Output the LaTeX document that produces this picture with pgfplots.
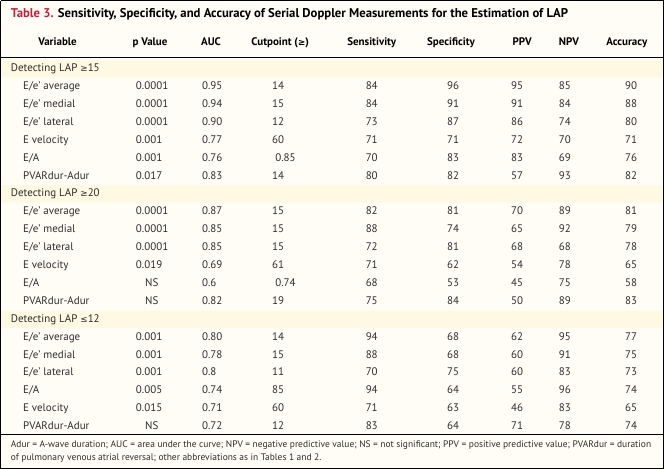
\documentclass[border=0pt]{standalone}
\usepackage{pgfplots}
\pgfplotsset{compat=1.18}
\usepackage{pgfplotstable}
\usepackage{fontspec}
\setmainfont{PT Sans}
\newfontfamily\symfont{DejaVu Sans}
\protected\def\sym#1{{\symfont\fontsize{8.6}{10}\selectfont #1}}
\definecolor{bgc}{RGB}{255,253,246}
\definecolor{band}{RGB}{255,248,226}
\definecolor{titlered}{RGB}{200,30,60}
\definecolor{txt}{RGB}{45,45,45}

\pgfplotstableread[col sep=ampersand, row sep=\\]{
y&var&p&px&auc&cut&cx&sens&spec&ppv&npv&acc\\
89.6&E/e’ average&0.0001&138&0.95&14&272&84&96&95&85&90\\
107.2&E/e’ medial&0.0001&138&0.94&15&272&84&91&91&84&88\\
124.8&E/e’ lateral&0.0001&138&0.90&12&272&73&87&86&74&80\\
142.4&E velocity&0.001&138&0.77&60&272&71&71&72&70&71\\
160&E/A&0.001&138&0.76&0.85&275&70&83&83&69&76\\
177.6&PVARdur-Adur&0.017&138&0.83&14&272&80&82&57&93&82\\
212.8&E/e’ average&0.0001&138&0.87&15&272&82&81&70&89&81\\
230.4&E/e’ medial&0.0001&138&0.85&15&272&88&74&65&92&79\\
248&E/e’ lateral&0.0001&138&0.85&15&272&72&81&68&68&78\\
265.6&E velocity&0.019&138&0.69&61&272&71&62&54&78&65\\
283.2&E/A&NS&147&0.6&0.74&275&68&53&45&75&58\\
300.8&PVARdur-Adur&NS&147&0.82&19&272&75&84&50&89&83\\
336&E/e’ average&0.001&138&0.80&14&272&94&68&62&95&77\\
353.6&E/e’ medial&0.001&138&0.78&15&272&88&68&60&91&75\\
371.2&E/e’ lateral&0.001&138&0.8&11&272&70&75&60&83&73\\
388.8&E/A&0.005&138&0.74&85&272&94&64&55&96&74\\
406.4&E velocity&0.015&138&0.71&60&272&71&63&46&83&65\\
424&PVARdur-Adur&NS&147&0.72&12&272&83&64&71&78&74\\
}\datatbl

\pgfplotstableread[col sep=ampersand, row sep=\\]{
x&y&label\\
61&46&Variable\\
152&46&p Value\\
212&46&AUC\\
280&46&Cutpoint (\sym{≥})\\
370&46&Sensitivity\\
448&46&Specificity\\
518&46&PPV\\
564&46&NPV\\
621&46&Accuracy\\
}\headtbl

\pgfplotstableread[col sep=ampersand, row sep=\\]{
x&y&label\\
15&72&Detecting LAP \sym{≥}15\\
15&195.2&Detecting LAP \sym{≥}20\\
15&318.4&Detecting LAP \sym{≤}12\\
}\sectbl

\pgfplotsset{
  cell/.style={only marks, mark=none, nodes near coords, point meta=explicit symbolic,
    nodes near coords align={anchor=west},
    nodes near coords style={anchor=west, inner sep=0pt, text height=1.5ex, text depth=0.3ex,
      font=\fontsize{10.8}{12}\selectfont, text=txt}},
  hcell/.style={only marks, mark=none, nodes near coords, point meta=explicit symbolic,
    nodes near coords align={anchor=center},
    nodes near coords style={anchor=center, inner sep=0pt, text height=1.5ex, text depth=0.3ex,
      font=\bfseries\fontsize{10.8}{12}\selectfont, text=black}},
}

\begin{document}
\begin{tikzpicture}
\begin{axis}[width=664pt, height=471pt, scale only axis,
  xmin=0, xmax=664, ymin=0, ymax=471, y dir=reverse,
  axis lines=none, clip=false]
% background and bands
\addplot[fill=bgc, draw=none, mark=none] coordinates {(5,5) (657,5) (657,465) (5,465) (5,5)};
\addplot[fill=band, draw=none, mark=none] coordinates {(5,63.5) (657,63.5) (657,80.5) (5,80.5) (5,63.5)};
\addplot[fill=band, draw=none, mark=none] coordinates {(5,186.7) (657,186.7) (657,203.7) (5,203.7) (5,186.7)};
\addplot[fill=band, draw=none, mark=none] coordinates {(5,309.9) (657,309.9) (657,326.9) (5,326.9) (5,309.9)};
% rules
\addplot[black, line width=0.8pt, mark=none] coordinates {(5,61) (657,61)};
\addplot[black, line width=0.8pt, mark=none] coordinates {(5,432) (657,432)};
\addplot[black, line width=1.1pt, mark=none, line join=miter] coordinates {(5,5) (657,5) (657,465) (5,465) (5,5)};
% header
\addplot[hcell] table[x=x, y=y, meta=label] {\headtbl};
% sections
\addplot[cell] table[x=x, y=y, meta=label] {\sectbl};
% cells
\addplot[cell] table[x expr=27, y=y, meta=var] {\datatbl};
\addplot[cell] table[x=px, y=y, meta=p] {\datatbl};
\addplot[cell] table[x expr=203, y=y, meta=auc] {\datatbl};
\addplot[cell] table[x=cx, y=y, meta=cut] {\datatbl};
\addplot[cell] table[x expr=364, y=y, meta=sens] {\datatbl};
\addplot[cell] table[x expr=444, y=y, meta=spec] {\datatbl};
\addplot[cell] table[x expr=507, y=y, meta=ppv] {\datatbl};
\addplot[cell] table[x expr=554, y=y, meta=npv] {\datatbl};
\addplot[cell] table[x expr=619, y=y, meta=acc] {\datatbl};
% title
\node[anchor=west, inner sep=0pt, font=\bfseries\fontsize{12.5}{14}\selectfont] at (axis cs:15,18)
  {\textcolor{titlered}{Table 3.} Sensitivity, Specificity, and Accuracy of Serial Doppler Measurements for the Estimation of LAP};
% footnote
\node[anchor=west, inner sep=0pt, font=\fontsize{9.3}{11}\selectfont, text=txt] at (axis cs:15,442)
  {Adur = A-wave duration; AUC = area under the curve; NPV = negative predictive value; NS = not significant; PPV = positive predictive value; PVARdur = duration};
\node[anchor=west, inner sep=0pt, font=\fontsize{9.3}{11}\selectfont, text=txt] at (axis cs:15,455)
  {of pulmonary venous atrial reversal; other abbreviations as in Tables 1 and 2.};
\end{axis}
\end{tikzpicture}
\end{document}
